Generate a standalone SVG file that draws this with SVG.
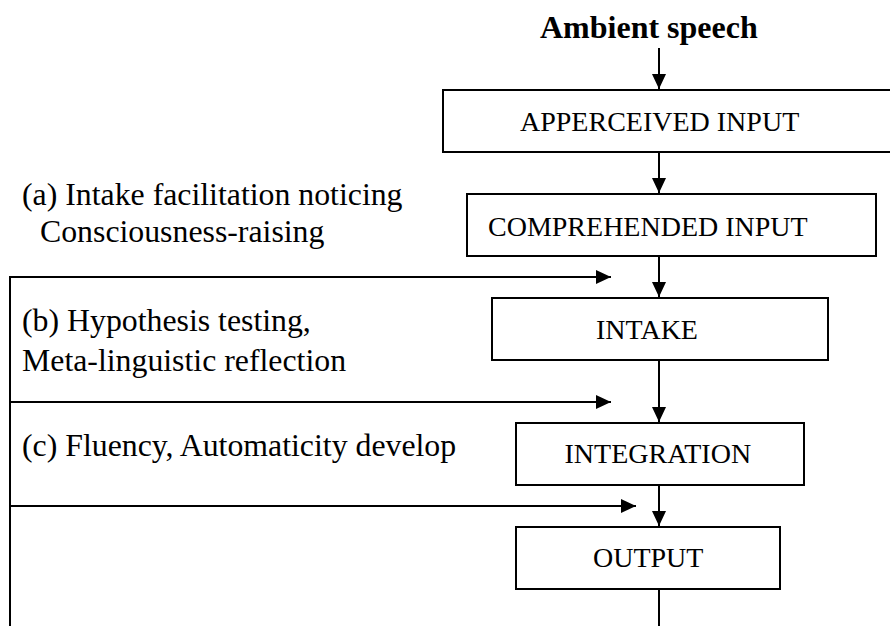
<svg xmlns="http://www.w3.org/2000/svg" width="890" height="626" viewBox="0 0 890 626">
<defs>
<marker id="ah" viewBox="0 0 15 14" refX="15" refY="7" markerWidth="15" markerHeight="14" markerUnits="userSpaceOnUse" orient="auto">
<path d="M0,0 L15,7 L0,14 z" fill="#000"/>
</marker>
<style>
.box{fill:#fff;stroke:#000;stroke-width:2}
.bt{font-size:28px;fill:#000}
.lb{font-size:31.8px;fill:#000}
.hd{font-size:32px;font-weight:bold;fill:#000}
.ln{fill:none;stroke:#000;stroke-width:2}
.ar{fill:none;stroke:#000;stroke-width:2;marker-end:url(#ah)}
</style>
</defs>
<rect width="890" height="626" fill="#fff"/>
<g font-family="Liberation Serif, Tinos, Times New Roman, DejaVu Serif, serif">
<g id="ambient"><text class="hd" x="540" y="38">Ambient speech</text></g>
<g id="apperceived"><rect class="box" x="443" y="90" width="460" height="62"/><text class="bt" x="520" y="131">APPERCEIVED INPUT</text></g>
<g id="comprehended"><rect class="box" x="467" y="194" width="409" height="62"/><text class="bt" x="488" y="236">COMPREHENDED INPUT</text></g>
<g id="intake"><rect class="box" x="492" y="298" width="336" height="62"/><text class="bt" x="596" y="339">INTAKE</text></g>
<g id="integration"><rect class="box" x="516" y="423" width="288" height="62"/><text class="bt" x="564.5" y="463">INTEGRATION</text></g>
<g id="output"><rect class="box" x="516" y="527" width="264" height="62"/><text class="bt" x="593" y="567">OUTPUT</text></g>
<g id="label-a"><text class="lb" x="22" y="205">(a) Intake facilitation noticing</text><text class="lb" x="40" y="242">Consciousness-raising</text></g>
<g id="label-b"><text class="lb" x="22" y="331">(b) Hypothesis testing,</text><text class="lb" x="22" y="371">Meta-linguistic reflection</text></g>
<g id="label-c"><text class="lb" x="22" y="456">(c) Fluency, Automaticity develop</text></g>
</g>
<g id="connectors">
<line class="ar" x1="659" y1="48" x2="659" y2="89"/>
<line class="ar" x1="659" y1="152" x2="659" y2="193"/>
<line class="ar" x1="659" y1="256" x2="659" y2="297"/>
<line class="ar" x1="659" y1="360" x2="659" y2="422"/>
<line class="ar" x1="659" y1="485" x2="659" y2="526"/>
<line class="ln" x1="659" y1="589" x2="659" y2="626"/>
<line class="ln" x1="10" y1="276" x2="10" y2="626"/>
<line class="ar" x1="9" y1="277" x2="611" y2="277"/>
<line class="ar" x1="9" y1="402" x2="611" y2="402"/>
<line class="ar" x1="9" y1="506" x2="636" y2="506"/>
</g>
</svg>
